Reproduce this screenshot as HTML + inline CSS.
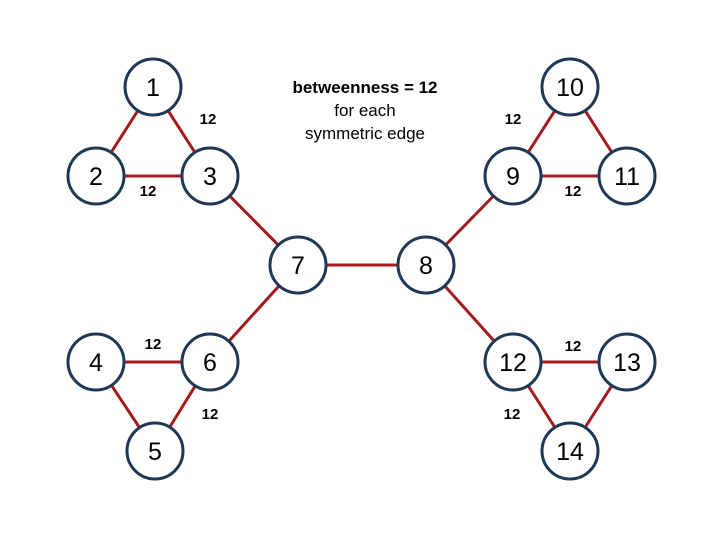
<!DOCTYPE html>
<html><head><style>body{margin:0;background:#fff}</style></head><body>
<svg width="720" height="540" xmlns="http://www.w3.org/2000/svg" font-family="Liberation Sans, sans-serif">
<g stroke="#a31a1f" stroke-width="3">
<line x1="153" y1="87" x2="96" y2="176"/><line x1="153" y1="87" x2="210" y2="176"/><line x1="96" y1="176" x2="210" y2="176"/>
<line x1="210" y1="176" x2="298" y2="265"/><line x1="298" y1="265" x2="426" y2="265"/><line x1="426" y1="265" x2="513" y2="176"/>
<line x1="570" y1="87" x2="513" y2="176"/><line x1="570" y1="87" x2="627" y2="176"/><line x1="513" y1="176" x2="627" y2="176"/>
<line x1="298" y1="265" x2="210" y2="362"/><line x1="96" y1="362" x2="210" y2="362"/><line x1="96" y1="362" x2="155" y2="451"/><line x1="210" y1="362" x2="155" y2="451"/>
<line x1="426" y1="265" x2="513" y2="362"/><line x1="513" y1="362" x2="627" y2="362"/><line x1="513" y1="362" x2="570" y2="451"/><line x1="627" y1="362" x2="570" y2="451"/>
</g>
<g fill="#fff" stroke="#1f3856" stroke-width="3">
<circle cx="153" cy="87" r="28"/><circle cx="96" cy="176" r="28"/><circle cx="210" cy="176" r="28"/>
<circle cx="298" cy="265" r="28"/><circle cx="426" cy="265" r="28"/><circle cx="513" cy="176" r="28"/>
<circle cx="570" cy="87" r="28"/><circle cx="627" cy="176" r="28"/>
<circle cx="96" cy="362" r="28"/><circle cx="210" cy="362" r="28"/><circle cx="155" cy="451" r="28"/>
<circle cx="513" cy="362" r="28"/><circle cx="627" cy="362" r="28"/><circle cx="570" cy="451" r="28"/>
</g>
<g font-size="25" text-anchor="middle" fill="#000">
<text x="153" y="96">1</text><text x="96" y="185">2</text><text x="210" y="185">3</text>
<text x="298" y="274">7</text><text x="426" y="274">8</text><text x="513" y="185">9</text>
<text x="570" y="96">10</text><text x="627" y="185">11</text>
<text x="96" y="371">4</text><text x="210" y="371">6</text><text x="155" y="460">5</text>
<text x="513" y="371">12</text><text x="627" y="371">13</text><text x="570" y="460">14</text>
</g>
<g font-size="15" font-weight="bold" text-anchor="middle">
<text x="208" y="124">12</text><text x="148" y="196">12</text><text x="153" y="349">12</text><text x="210" y="419">12</text>
<text x="513" y="124">12</text><text x="573" y="196">12</text><text x="573" y="351">12</text><text x="512" y="419">12</text>
</g>
<g font-size="17" text-anchor="middle">
<text x="365" y="93" font-weight="bold">betweenness = 12</text>
<text x="365" y="116">for each</text>
<text x="365" y="139">symmetric edge</text>
</g>
</svg>
</body></html>
